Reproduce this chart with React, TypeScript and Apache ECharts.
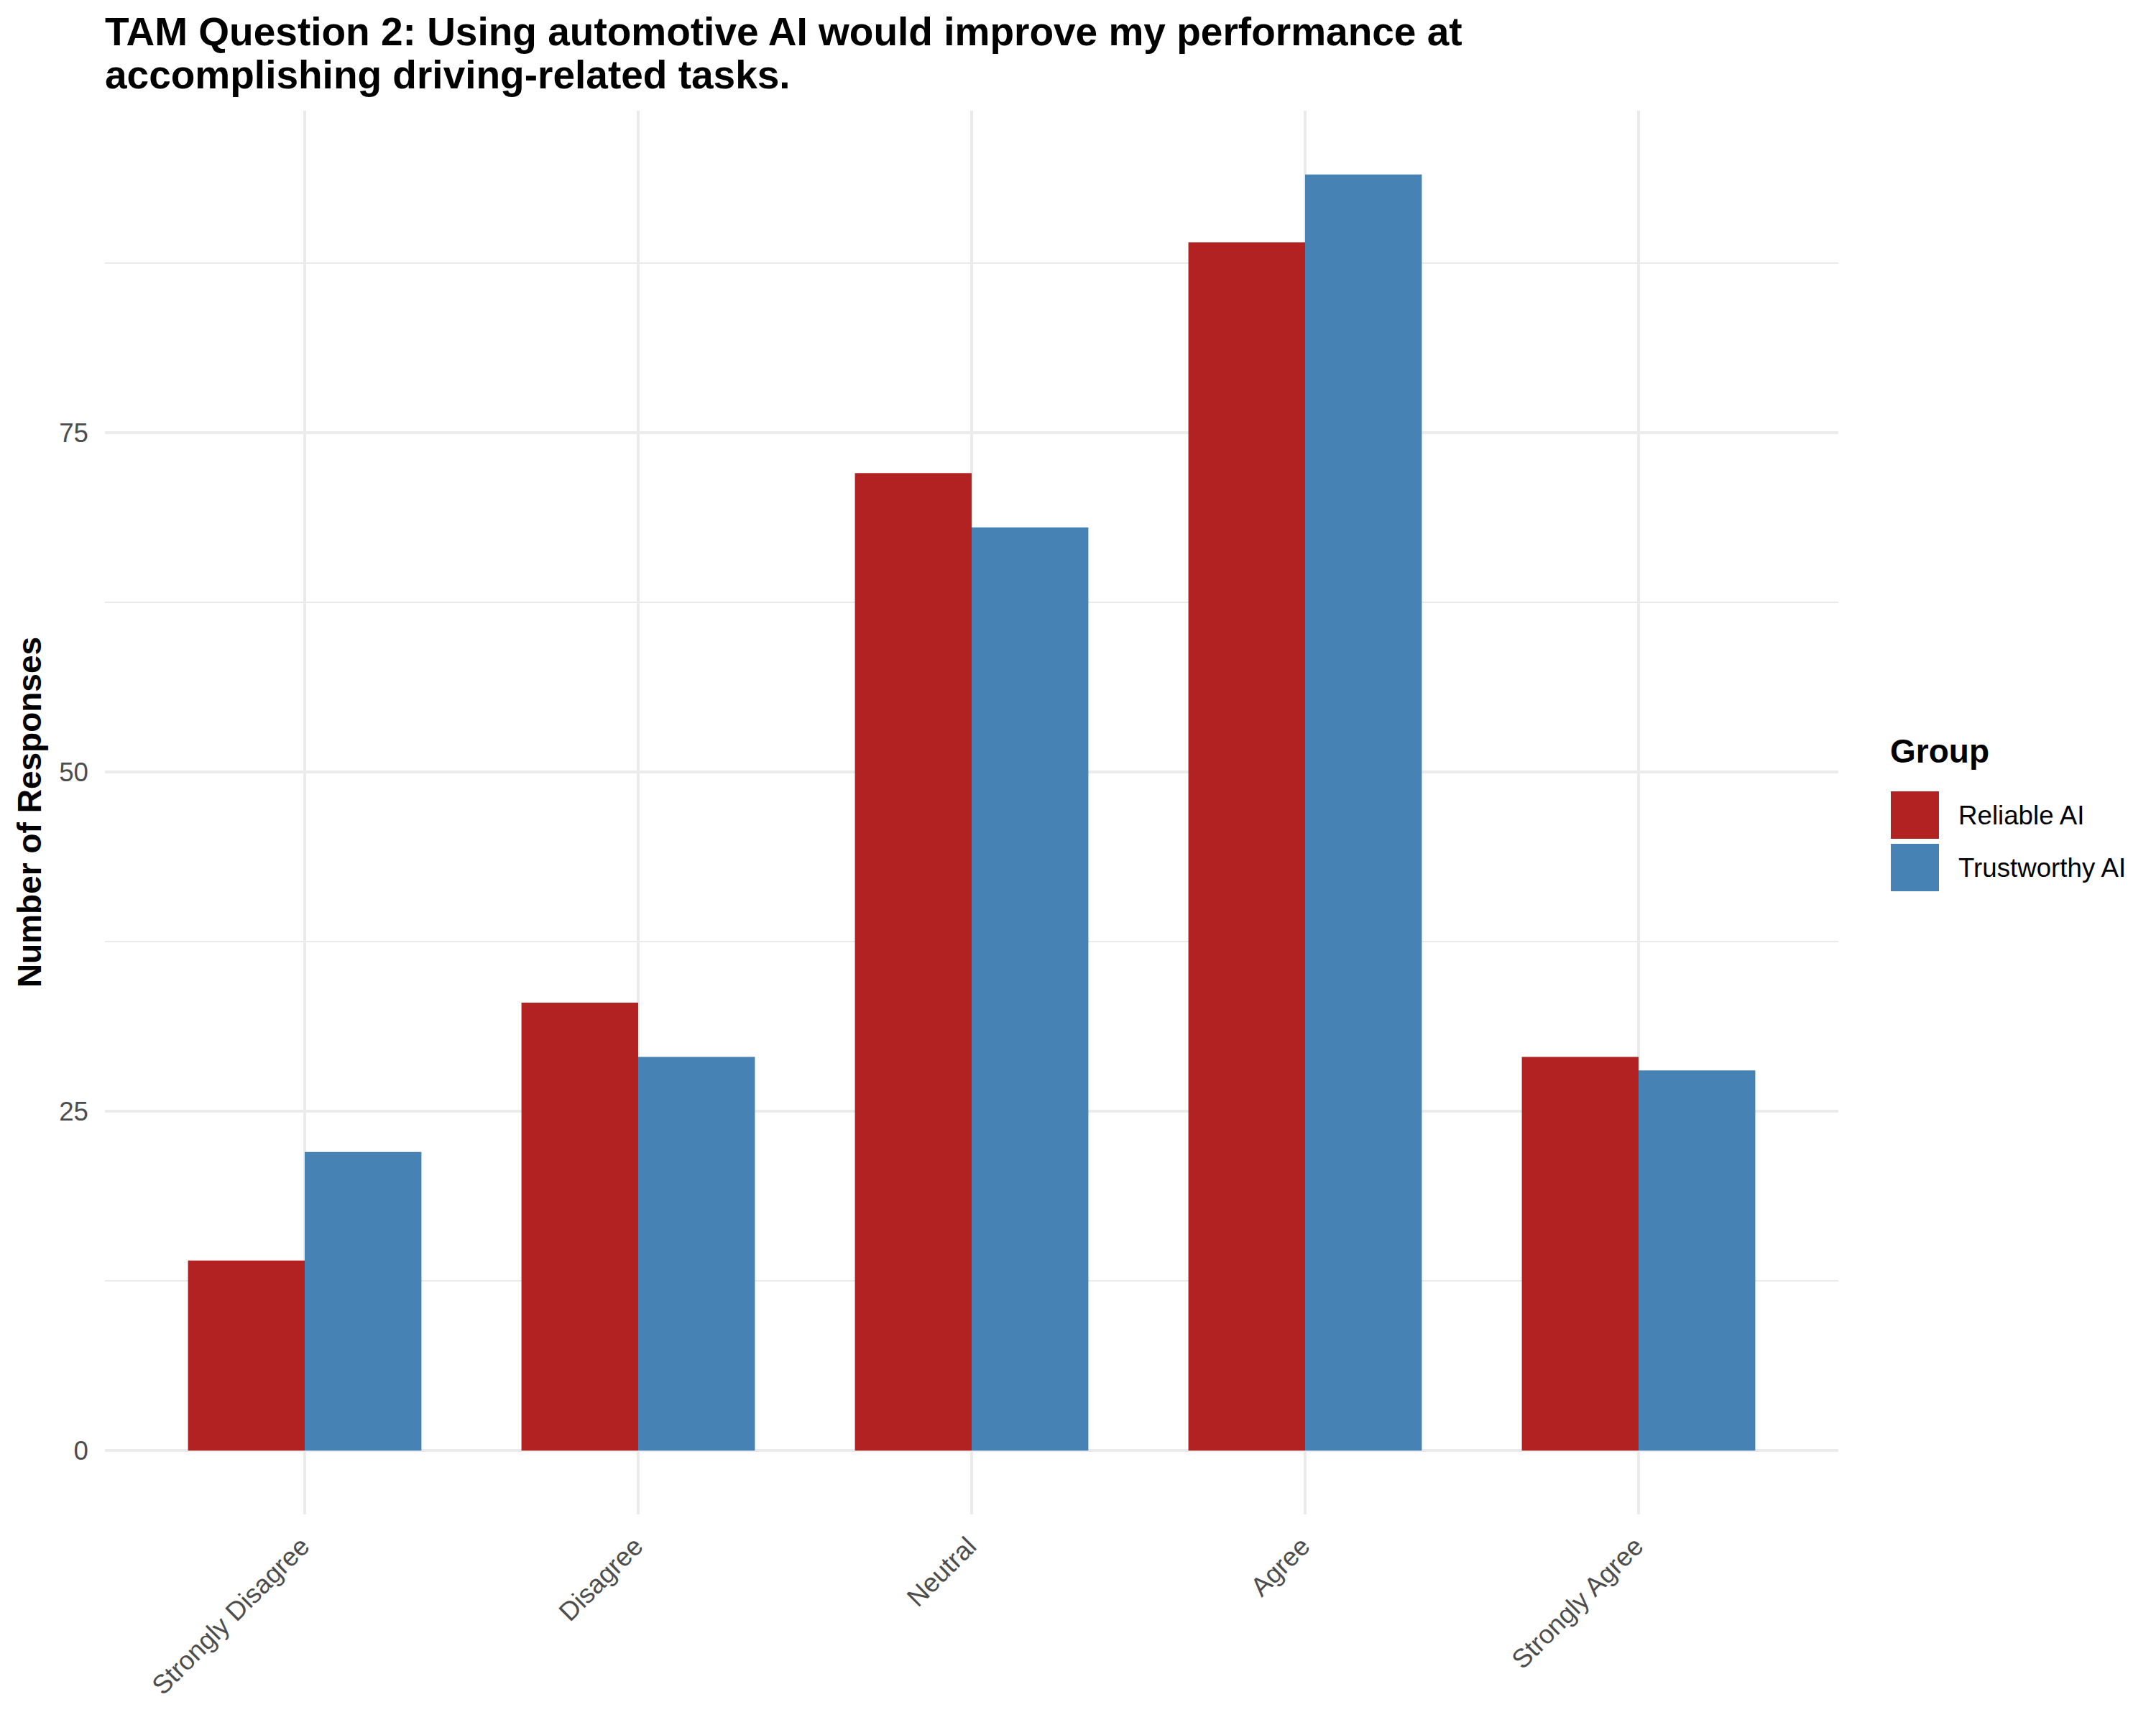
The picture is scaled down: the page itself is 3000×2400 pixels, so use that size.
import React, { useEffect, useRef } from "react";
import * as echarts from "echarts";

const categories = ["Strongly Disagree", "Disagree", "Neutral", "Agree", "Strongly Agree"];
const reliableAI = [14, 33, 72, 89, 29];
const trustworthyAI = [22, 29, 68, 94, 28];
const seriesNames = ["Reliable AI", "Trustworthy AI"];
const titleText = "TAM Question 2: Using automotive AI would improve my performance at\naccomplishing driving-related tasks.";
const yAxisTitle = "Number of Responses";
const legendTitle = "Group";

const FONT = "'Liberation Sans', Arial, Helvetica, sans-serif";
const GRID_COLOR = "#ebebeb";

export default function App() {
  const ref = useRef<HTMLDivElement>(null);

  useEffect(() => {
    if (!ref.current) return;
    const chart = echarts.init(ref.current, undefined, { renderer: "svg" });
    const option: any = {
      animation: false,
      backgroundColor: "#ffffff",
      textStyle: { fontFamily: FONT },
      title: {
        text: titleText,
        left: 146,
        top: 14,
        padding: 0,
        textStyle: { fontFamily: FONT, fontSize: 55, fontWeight: "bold", color: "#000", lineHeight: 60 },
      },
      legend: {
        data: seriesNames,
        orient: "vertical",
        left: 2631,
        top: 1101,
        padding: 0,
        icon: "rect",
        itemWidth: 67,
        itemHeight: 66,
        itemGap: 7,
        textStyle: { fontFamily: FONT, fontSize: 36.7, color: "#000", padding: [0, 0, 0, 22] },
      },
      graphic: [
        {
          type: "text",
          x: 2630,
          y: 1045,
          style: { text: legendTitle, font: `bold 46px ${FONT}`, fill: "#000", textAlign: "left", textVerticalAlign: "middle" },
        },
        {
          type: "text",
          x: 41,
          y: 1130,
          rotation: Math.PI / 2,
          style: { text: yAxisTitle, font: `bold 46px ${FONT}`, fill: "#000", textAlign: "center", textVerticalAlign: "middle" },
        },
      ],
      grid: [
        // major horizontal grid + labels
        { left: 146, right: 442, top: 602, bottom: 382 },
        // minor horizontal grid
        { left: 146, right: 442, top: 366, bottom: 618 },
        // bars
        { left: 192, right: 488, top: 154, bottom: 293 },
      ],
      xAxis: [
        { gridIndex: 0, type: "value", min: 0, max: 1, show: false },
        { gridIndex: 1, type: "value", min: 0, max: 1, show: false },
        {
          gridIndex: 2,
          type: "category",
          data: categories,
          axisLine: { show: false, onZero: false },
          axisTick: {
            show: true,
            alignWithLabel: true,
            inside: true,
            length: 1953,
            lineStyle: { color: GRID_COLOR, width: 4 },
          },
          splitLine: { show: false },
          axisLabel: {
            rotate: 45,
            margin: 38,
            fontFamily: FONT,
            fontSize: 36.7,
            color: "#4d4d4d",
            interval: 0,
          },
        },
      ],
      yAxis: [
        {
          gridIndex: 0,
          type: "value",
          min: 0,
          max: 75,
          interval: 25,
          axisLine: { show: false },
          axisTick: { show: false },
          splitLine: { show: true, lineStyle: { color: GRID_COLOR, width: 4 } },
          axisLabel: { margin: 23, fontFamily: FONT, fontSize: 36.7, color: "#4d4d4d" },
        },
        {
          gridIndex: 1,
          type: "value",
          min: 12.5,
          max: 87.5,
          interval: 25,
          axisLine: { show: false },
          axisTick: { show: false },
          axisLabel: { show: false },
          splitLine: { show: true, lineStyle: { color: GRID_COLOR, width: 2 } },
        },
        {
          gridIndex: 2,
          type: "value",
          min: -4.7,
          max: 98.7,
          show: false,
          splitLine: { show: false },
        },
      ],
      series: [
        {
          name: seriesNames[0],
          type: "bar",
          xAxisIndex: 2,
          yAxisIndex: 2,
          data: reliableAI,
          barWidth: "35%",
          barGap: "0%",
          itemStyle: { color: "#B22222" },
        },
        {
          name: seriesNames[1],
          type: "bar",
          xAxisIndex: 2,
          yAxisIndex: 2,
          data: trustworthyAI,
          barWidth: "35%",
          barGap: "0%",
          itemStyle: { color: "#4682B4" },
        },
      ],
    };
    chart.setOption(option);
    return () => chart.dispose();
  }, []);

  return (
    <div
      ref={ref}
      style={{ position: "fixed", left: 0, top: 0, width: 3000, height: 2400 }}
    />
  );
}
